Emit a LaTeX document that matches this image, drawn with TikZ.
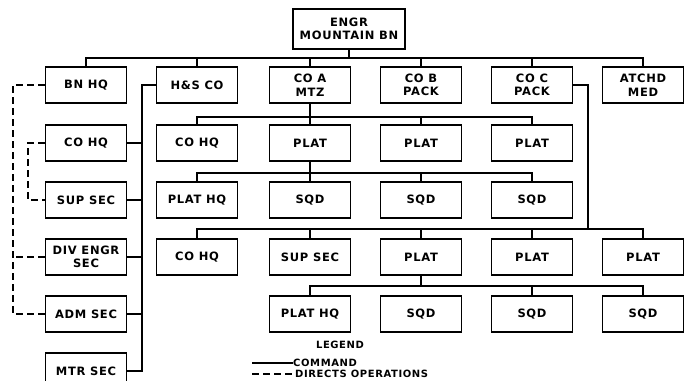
\documentclass[tikz,border=0pt]{standalone}
\usepackage{fontspec}
\setmainfont{DejaVu Sans}
\newfontfamily\boxfont[LetterSpace=6]{DejaVu Sans}
\begin{document}
\begin{tikzpicture}[x=1pt,y=-1pt,
  box/.style={draw,line width=1.9pt,minimum width=81pt,minimum height=36pt,inner sep=1pt,align=center,font=\boxfont\fontsize{11.5}{13.5}\selectfont\bfseries},
  cmd/.style={line width=1.7pt},
  ops/.style={line width=1.9pt,dash pattern=on 7pt off 4pt},
  lab/.style={font=\boxfont\fontsize{10}{11}\selectfont\bfseries,inner sep=0pt}]
\useasboundingbox (0,0) rectangle (684,380);
\clip (0,0) rectangle (684,380);
% top
\node[box,minimum width=112pt,minimum height=40pt] (engr) at (349,29) {ENGR\\MOUNTAIN BN};
% row 1
\node[box] (bnhq)  at (86,85)  {BN HQ};
\node[box] (hs)    at (197,85) {H\&S CO};
\node[box] (coa)   at (310,85) {CO A\\MTZ};
\node[box] (cob)   at (421,85) {CO B\\PACK};
\node[box] (coc)   at (532,85) {CO C\\PACK};
\node[box] (atchd) at (643,85) {ATCHD\\MED};
% row 2
\node[box] (cohqa) at (86,143)  {CO HQ};
\node[box] (cohqb) at (197,143) {CO HQ};
\node[box] (plata) at (310,143) {PLAT};
\node[box] (platb) at (421,143) {PLAT};
\node[box] (platc) at (532,143) {PLAT};
% row 3
\node[box] (supa)  at (86,200)  {SUP SEC};
\node[box] (phqa)  at (197,200) {PLAT HQ};
\node[box] (sqda)  at (310,200) {SQD};
\node[box] (sqdb)  at (421,200) {SQD};
\node[box] (sqdc)  at (532,200) {SQD};
% row 4
\node[box] (div)   at (86,257)  {DIV ENGR\\SEC};
\node[box] (cohqc) at (197,257) {CO HQ};
\node[box] (supb)  at (310,257) {SUP SEC};
\node[box] (platd) at (421,257) {PLAT};
\node[box] (plate) at (532,257) {PLAT};
\node[box] (platf) at (643,257) {PLAT};
% row 5
\node[box] (adm)   at (86,314)  {ADM SEC};
\node[box] (phqb)  at (310,314) {PLAT HQ};
\node[box] (sqdd)  at (421,314) {SQD};
\node[box] (sqde)  at (532,314) {SQD};
\node[box] (sqdf)  at (643,314) {SQD};
% row 6
\node[box] (mtr)   at (86,371)  {MTR SEC};
% buses
\coordinate (b1) at (349,58);
\draw[cmd] (engr.south) -- (b1);
\draw[cmd] (bnhq.north) |- (b1) -| (atchd.north);
\foreach \n in {hs,coa,cob,coc} \draw[cmd] (\n.north) -- (\n.north |- b1);
\coordinate (b2) at (310,117);
\draw[cmd] (coa.south) -- (b2);
\draw[cmd] (cohqb.north) |- (b2) -| (platc.north);
\foreach \n in {plata,platb} \draw[cmd] (\n.north) -- (\n.north |- b2);
\coordinate (b3) at (310,173);
\draw[cmd] (plata.south) -- (b3);
\draw[cmd] (phqa.north) |- (b3) -| (sqdc.north);
\foreach \n in {sqda,sqdb} \draw[cmd] (\n.north) -- (\n.north |- b3);
\coordinate (c1) at (588,85);
\coordinate (b4) at (588,229);
\draw[cmd] (coc.east) -- (c1) -- (b4);
\draw[cmd] (cohqc.north) |- (b4) -| (platf.north);
\foreach \n in {supb,platd,plate} \draw[cmd] (\n.north) -- (\n.north |- b4);
\coordinate (b5) at (421,286);
\draw[cmd] (platd.south) -- (b5);
\draw[cmd] (phqb.north) |- (b5) -| (sqdf.north);
\draw[cmd] (sqde.north) -- (sqde.north |- b5);
% H&S CO sections
\coordinate (v1) at (142,85);
\coordinate (v2) at (142,371);
\draw[cmd] (hs.west) -- (v1) -- (v2) -- (mtr.east);
\foreach \n in {cohqa,supa,div,adm} \draw[cmd] (\n.east) -- (\n.east -| v1);
% directs operations
\coordinate (d1) at (13,85);
\coordinate (d2) at (13,314);
\draw[ops] (bnhq.west) -- (d1) -- (d2) -- (adm.west);
\draw[ops] (div.west) -- (div.west -| d1);
\coordinate (e1) at (28,143);
\coordinate (e2) at (28,200);
\draw[ops] (cohqa.west) -- (e1) -- (e2) -- (supa.west);
% legend
\node[lab] (leg) at (340,345) {LEGEND};
\node[lab,anchor=west] (lcmd) at (293,363) {COMMAND};
\node[lab,anchor=west] (lops) at (295,374) {DIRECTS OPERATIONS};
\coordinate (l1) at (252,363);
\coordinate (l2) at (252,374);
\draw[cmd] (l1) -- (lcmd.west);
\draw[ops] (l2) -- (lops.west);
\end{tikzpicture}
\end{document}
